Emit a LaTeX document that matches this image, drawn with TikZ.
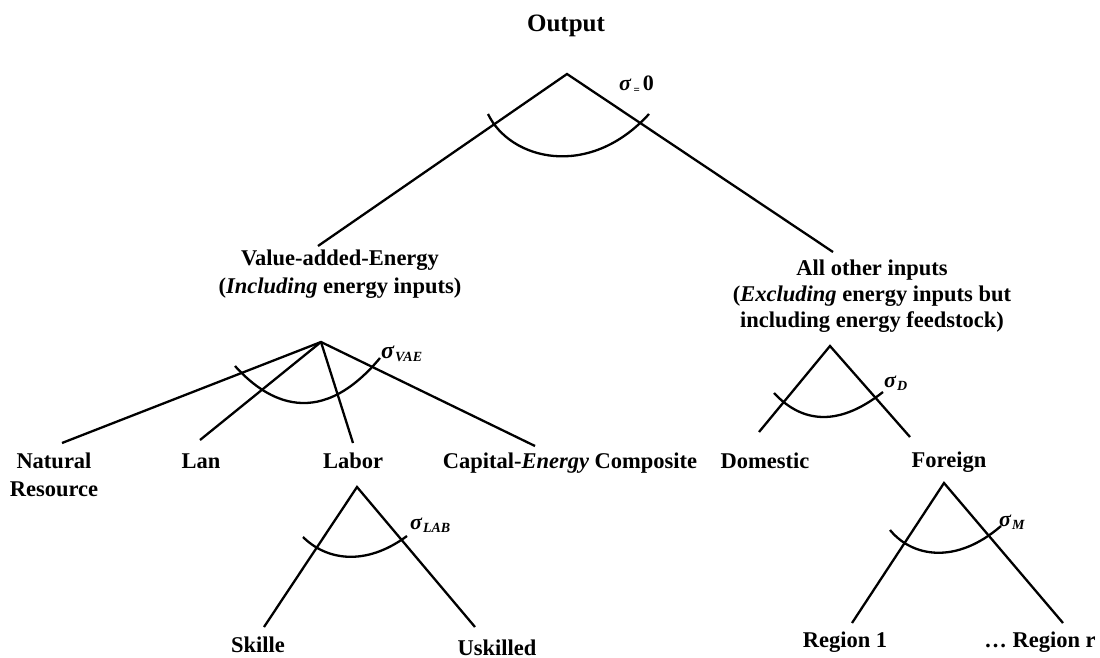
\documentclass[tikz,border=0pt]{standalone}
\usepackage{fontspec}
\setmainfont{Liberation Serif}
\newcommand{\sigsub}[1]{\raisebox{-3pt}{\fontsize{14}{14}\selectfont #1}}
\begin{document}
\begin{tikzpicture}[x=1pt,y=-1pt,
  lbl/.style={font=\fontsize{22.5}{28}\selectfont\bfseries, inner sep=0pt, anchor=base, align=center},
  edge/.style={line width=2.3pt, line join=miter},
  arcline/.style={line width=2.3pt},
  sig/.style={inner sep=0pt, anchor=base west, font=\fontsize{24}{24}\selectfont\bfseries\itshape},
  sigs/.style={inner sep=0pt, anchor=base west, font=\fontsize{22}{22}\selectfont\bfseries\itshape}]
\useasboundingbox (0,0) rectangle (1100,658);

% ---- labels (base anchor = baseline of the last line) ----
\node[lbl, font=\fontsize{25}{30}\selectfont\bfseries] (out) at (566,32) {Output};
\node[lbl] (vae) at (340,293) {Value-added-Energy\\(\textit{Including} energy inputs)};
\node[lbl, font=\fontsize{22.5}{26}\selectfont\bfseries] (aoi) at (872,327) {All other inputs\\(\textit{Excluding} energy inputs but\\including energy feedstock)};
\node[lbl] (nat) at (54,496) {Natural\\Resource};
\node[lbl] (lan) at (201,468) {Lan};
\node[lbl] (lab) at (353,468) {Labor};
\node[lbl] (cap) at (570,468) {Capital-\textit{Energy} Composite};
\node[lbl] (dom) at (765,468) {Domestic};
\node[lbl] (for) at (949,467) {Foreign};
\node[lbl] (sk) at (258,652) {Skille};
\node[lbl] (usk) at (497,655) {Uskilled};
\node[lbl] (r1) at (845,647) {Region 1};
\node[lbl] (rr) at (1040,647) {\dots{} Region r};

% ---- sigma labels ----
\node[inner sep=0pt, anchor=base west, font=\fontsize{22}{22}\selectfont\bfseries] (s0) at (619,91)
  {\textit{σ}\kern2pt\raisebox{-3pt}{\fontsize{11}{11}\selectfont =}\kern3pt 0};
\node[sig] (svae) at (381,358) {σ\kern1pt\sigsub{VAE}};
\node[sigs] (sd) at (884,387) {σ\kern1pt\sigsub{D}};
\node[sigs] (slab) at (410,529) {σ\kern1pt\sigsub{LAB}};
\node[sigs] (sm) at (999,526) {σ\kern1pt\sigsub{M}};

% ---- branch points ----
\coordinate (o) at (567,74);
\coordinate (oL) at (318,246);
\coordinate (oR) at (833,252);

\coordinate (v) at (321,342);
\coordinate (vNat) at (62,443);
\coordinate (vLan) at (200,440);
\coordinate (vLab) at (353,443);
\coordinate (vCap) at (535,446);

\coordinate (d) at (830,346);
\coordinate (dL) at (759,432);
\coordinate (dR) at (910,437);

\coordinate (l) at (357,487);
\coordinate (lL) at (264,627);
\coordinate (lR) at (475,627);

\coordinate (m) at (944,483);
\coordinate (mL) at (852,623);
\coordinate (mR) at (1063,623);

% ---- connectors ----
\draw[edge] (oL) -- (o) -- (oR);
\draw[edge] (vNat) -- (v) -- (vCap);
\draw[edge] (v) -- (vLan);
\draw[edge] (v) -- (vLab);
\draw[edge] (dL) -- (d) -- (dR);
\draw[edge] (lL) -- (l) -- (lR);
\draw[edge] (mL) -- (m) -- (mR);

% ---- elasticity arcs ----
\draw[arcline] (488,114) .. controls (510,160) and (589,180) .. (649,114);
\draw[arcline] (235,366) .. controls (261,395) and (315,436) .. (380,358);
\draw[arcline] (774,393) .. controls (799,420) and (835,430) .. (883,392);
\draw[arcline] (303,537) .. controls (326,560) and (365,567) .. (407,536);
\draw[arcline] (890,530) .. controls (912,557) and (956,565) .. (1001,526);
\end{tikzpicture}
\end{document}
